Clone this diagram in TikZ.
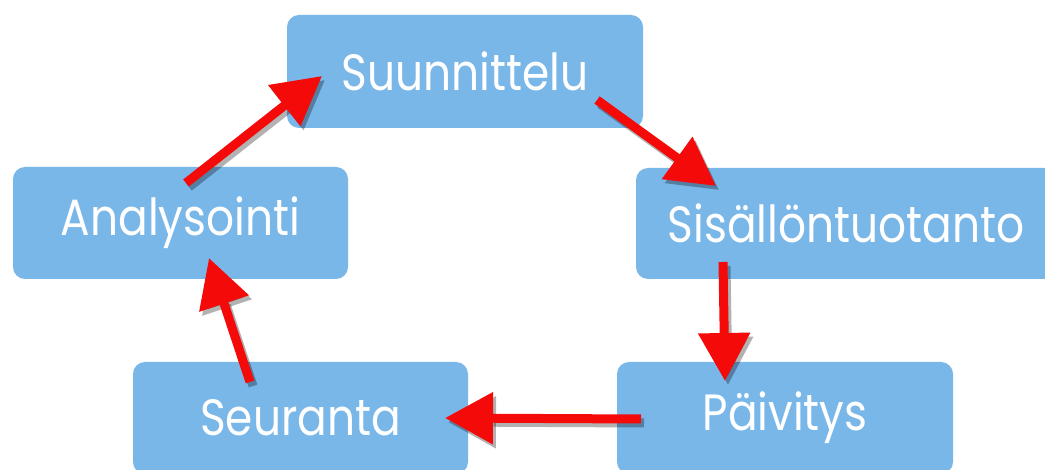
\documentclass[tikz,border=0pt]{standalone}
\usepackage{fontspec}
\newfontfamily\boxfont[FakeStretch=0.86]{Poppins}
\usetikzlibrary{arrows.meta}
\definecolor{boxblue}{HTML}{7AB7E9}
\definecolor{arrowred}{HTML}{F50A0A}
\tikzset{
  stage/.style={rectangle, rounded corners=12pt, fill=boxblue, draw=none,
    text=white, font=\boxfont\fontsize{51}{53}\selectfont, inner sep=0pt},
  flow/.style={line width=9pt, color=arrowred,
    -{Triangle[length=48pt,width=50pt]}},
  flowshadow/.style={line width=9pt, color=black, opacity=0.3,
    -{Triangle[length=48pt,width=50pt]}},
}
\begin{document}
\begin{tikzpicture}[x=1pt,y=-1pt]
\fill[white] (0,0) rectangle (1045,470);
\clip (0,0) rectangle (1045,470);
\node[stage, minimum width=356pt, minimum height=113pt] (suu) at (465,71.5) {Suunnittelu};
\node[stage, minimum width=335pt, minimum height=112pt] (ana) at (180.5,223) {Analysointi};
\node[stage, minimum width=420pt, minimum height=111pt] (sis) at (846,223.5) {Sis\"all\"ontuotanto};
\node[stage, minimum width=335pt, minimum height=112pt] (seu) at (300.5,418) {Seuranta};
\node[stage, minimum width=336pt, minimum height=112pt] (pai) at (785,418) {P\"aivitys};
% arrow end points
\coordinate (a1) at (186,183);
\coordinate (a2) at (322,76);
\coordinate (b1) at (597,100);
\coordinate (b2) at (716,186);
\coordinate (c1) at (723,262);
\coordinate (c2) at (725,381);
\coordinate (d1) at (641,419);
\coordinate (d2) at (445,418);
\coordinate (e1) at (250,382);
\coordinate (e2) at (209,258);
\foreach \s/\t in {a1/a2,b1/b2,c1/c2,d1/d2,e1/e2}{
  \draw[flowshadow, transform canvas={shift={(3pt,-4pt)}}] (\s) -- (\t);
  \draw[flow] (\s) -- (\t);
}
\end{tikzpicture}
\end{document}
